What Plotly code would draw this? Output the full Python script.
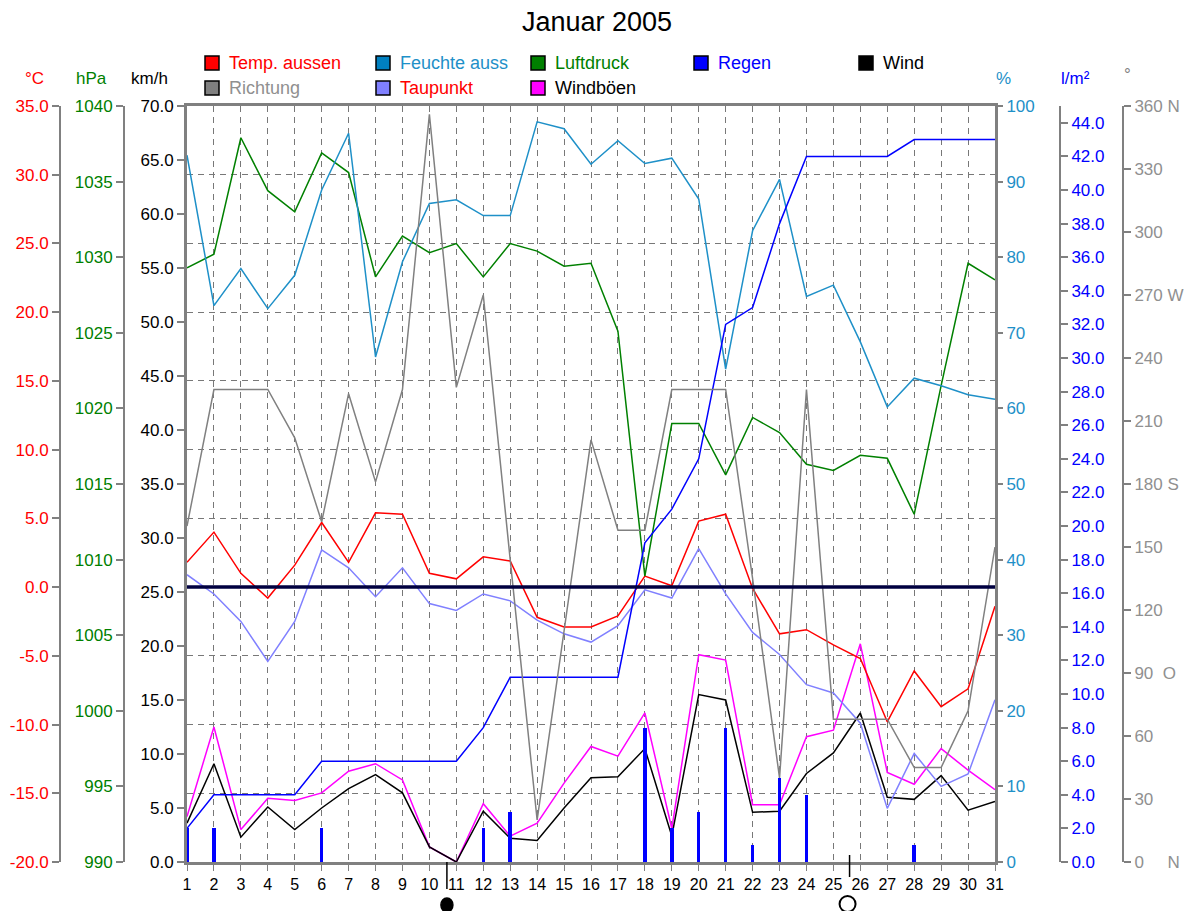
import plotly.graph_objects as go

# ---------------- data ----------------
days = list(range(1, 32))
day_labels = [str(d) for d in days]

temp_aussen = [1.8, 4.0, 1.0, -0.8, 1.6, 4.7, 1.8, 5.4, 5.3, 1.0, 0.6, 2.2, 1.9, -2.2, -2.9, -2.9,
               -2.1, 0.8, 0.1, 4.8, 5.3, -0.1, -3.4, -3.1, -4.2, -5.2, -9.8, -6.1, -8.7, -7.4, -1.4]
taupunkt = [0.9, -0.5, -2.5, -5.4, -2.5, 2.7, 1.4, -0.7, 1.4, -1.2, -1.7, -0.5, -1.0, -2.4, -3.4, -4.0,
            -2.8, -0.2, -0.8, 2.8, -0.5, -3.3, -4.9, -7.1, -7.7, -9.9, -16.1, -12.1, -14.5, -13.6, -8.2]
feuchte = [93.5, 73.6, 78.5, 73.2, 77.6, 88.9, 96.4, 66.8, 79.4, 87.1, 87.6, 85.5, 85.5, 97.9, 97.0, 92.3,
           95.4, 92.4, 93.1, 87.7, 65.2, 83.5, 90.3, 74.8, 76.3, 68.8, 60.2, 64.0, 63.0, 61.8, 61.2]
luftdruck = [1029.3, 1030.2, 1037.9, 1034.4, 1033.0, 1036.9, 1035.6, 1028.7, 1031.4, 1030.3, 1030.9,
             1028.7, 1030.9, 1030.4, 1029.4, 1029.6, 1025.1, 1008.9, 1019.0, 1019.0, 1015.6, 1019.4,
             1018.4, 1016.3, 1015.9, 1016.9, 1016.7, 1013.0, 1021.5, 1029.6, 1028.5]
regen_tag = [2, 2, 0, 0, 0, 2, 0, 0, 0, 0, 0, 2, 3, 0, 0, 0, 0, 8, 2, 3, 8, 1, 5, 4, 0, 0, 0, 1, 0, 0, 0]
regen_summe = [2, 4, 4, 4, 4, 6, 6, 6, 6, 6, 6, 8, 11, 11, 11, 11, 11, 19, 21, 24, 32, 33, 38, 42, 42,
               42, 42, 43, 43, 43, 43]
wind = [3.6, 9.1, 2.3, 5.1, 3.0, 5.0, 6.8, 8.1, 6.4, 1.4, 0.0, 4.7, 2.2, 2.0, 5.0, 7.8, 7.9, 10.5, 2.4,
        15.5, 15.0, 4.6, 4.7, 8.2, 10.1, 13.8, 6.0, 5.8, 8.0, 4.8, 5.6]
windboeen = [4.2, 12.5, 3.0, 5.9, 5.7, 6.4, 8.4, 9.1, 7.6, 1.4, 0.0, 5.4, 2.4, 3.6, 7.3, 10.7, 9.8,
             13.8, 3.1, 19.2, 18.7, 5.3, 5.3, 11.6, 12.2, 20.2, 8.3, 7.2, 10.5, 8.5, 6.7]
richtung = [160, 225, 225, 225, 202, 162, 223, 181, 225, 356, 226, 270, 144, 20, 110, 201, 158, 158,
            225, 225, 225, 135, 40, 225, 68, 68, 68, 45, 45, 72, 150]

temp_ticks = [35, 30, 25, 20, 15, 10, 5, 0, -5, -10, -15, -20]
hpa_ticks = [1040, 1035, 1030, 1025, 1020, 1015, 1010, 1005, 1000, 995, 990]
kmh_ticks = [70, 65, 60, 55, 50, 45, 40, 35, 30, 25, 20, 15, 10, 5, 0]
pct_ticks = [100, 90, 80, 70, 60, 50, 40, 30, 20, 10, 0]
rain_ticks = [44, 42, 40, 38, 36, 34, 32, 30, 28, 26, 24, 22, 20, 18, 16, 14, 12, 10, 8, 6, 4, 2, 0]
dir_ticks = [360, 330, 300, 270, 240, 210, 180, 150, 120, 90, 60, 30, 0]
NB = "\u00a0"
dir_labels = ["360" + NB + "N", "330", "300", "270" + NB + "W", "240", "210", "180" + NB + "S", "150",
              "120", "90" + NB * 2 + "O", "60", "30", "0" + NB * 5 + "N"]

moon_new_day = 10.65
moon_full_day = 25.6
zero_celsius = 0

# ---------------- geometry helpers ----------------
W, H = 1194, 911
ML, MR, MT, MB = 10, 10, 106, 49
PW = W - ML - MR
PH = H - MT - MB


def px(x):
    return (x - ML) / PW


def py(y):
    return (H - MB - y) / PH


FONT = "Liberation Sans, Arial, sans-serif"
GRAY = "#808080"
GRID = "#787878"
C_TEMP = "#FF0000"
C_HUM = "#1E90C8"
C_HUM_BOX = "#0080C0"
C_PRES = "#008000"
C_RAIN = "#0000FF"
C_DIR = "#808080"
C_DEW = "#8080FF"
C_GUST = "#FF00FF"
TICK_FS = 17

fig = go.Figure()

# km/h axis (main)
fig.add_trace(go.Scatter(x=days, y=windboeen, mode="lines", line=dict(color=C_GUST, width=1.5),
                         yaxis="y", showlegend=False))
fig.add_trace(go.Scatter(x=days, y=wind, mode="lines", line=dict(color="#000000", width=1.5),
                         yaxis="y", showlegend=False))
# temperature
fig.add_trace(go.Scatter(x=days, y=taupunkt, mode="lines", line=dict(color=C_DEW, width=1.5),
                         yaxis="y2", showlegend=False))
fig.add_trace(go.Scatter(x=days, y=temp_aussen, mode="lines", line=dict(color=C_TEMP, width=1.5),
                         yaxis="y2", showlegend=False))
# pressure
fig.add_trace(go.Scatter(x=days, y=luftdruck, mode="lines", line=dict(color=C_PRES, width=1.5),
                         yaxis="y3", showlegend=False))
# humidity
fig.add_trace(go.Scatter(x=days, y=feuchte, mode="lines", line=dict(color=C_HUM, width=1.5),
                         yaxis="y4", showlegend=False))
# rain
fig.add_trace(go.Bar(x=days, y=regen_tag, width=0.13, marker=dict(color=C_RAIN, line=dict(width=0)),
                     yaxis="y5", showlegend=False))
fig.add_trace(go.Scatter(x=days, y=regen_summe, mode="lines", line=dict(color=C_RAIN, width=1.5),
                         yaxis="y5", showlegend=False))
# direction
fig.add_trace(go.Scatter(x=days, y=richtung, mode="lines", line=dict(color=C_DIR, width=1.5),
                         yaxis="y6", showlegend=False))


def fmt1(v):
    return f"{v:.1f}"


common_y = dict(ticks="outside", ticklen=7, tickcolor=GRAY, tickwidth=1.5, zeroline=False,
                showgrid=False, automargin=False, fixedrange=True)

fig.update_layout(
    width=W, height=H,
    margin=dict(l=ML, r=MR, t=MT, b=MB, pad=0),
    paper_bgcolor="white", plot_bgcolor="white",
    font=dict(family=FONT, size=TICK_FS, color="#000000"),
    bargap=0,
    title=dict(text="Januar 2005", x=0.5, xanchor="center", y=1 - 22 / H, yanchor="middle",
               font=dict(family=FONT, size=27, color="#000000")),
    xaxis=dict(domain=[px(187), px(995)], range=[1, 31], tickvals=days, ticktext=day_labels,
               ticks="outside", ticklen=6, tickcolor=GRAY, showline=True, linecolor=GRAY, linewidth=3,
               mirror=True, showgrid=True, gridcolor=GRID, griddash="6px,5px", gridwidth=1.3,
               zeroline=False, tickfont=dict(size=16, color="#000000"), automargin=False, fixedrange=True),
    yaxis=dict(range=[0, 70], tickvals=kmh_ticks, ticktext=[fmt1(v) for v in kmh_ticks],
               showline=True, linecolor=GRAY, linewidth=3, mirror=True,
               tickfont=dict(size=TICK_FS, color="#000000"), **common_y),
    yaxis2=dict(overlaying="y", anchor="free", position=px(60), side="left", range=[-20, 35],
                tickvals=temp_ticks, ticktext=[fmt1(v) for v in temp_ticks],
                showline=True, linecolor=GRAY, linewidth=2,
                tickfont=dict(size=TICK_FS, color=C_TEMP),
                **{**common_y, "showgrid": True, "gridcolor": GRID, "griddash": "6px,5px", "gridwidth": 1.3}),
    yaxis3=dict(overlaying="y", anchor="free", position=px(124), side="left", range=[990, 1040],
                tickvals=hpa_ticks, ticktext=[str(v) for v in hpa_ticks],
                showline=True, linecolor=GRAY, linewidth=2,
                tickfont=dict(size=TICK_FS, color=C_PRES), **common_y),
    yaxis4=dict(overlaying="y", anchor="x", side="right", range=[0, 100],
                tickvals=pct_ticks, ticktext=[str(v) for v in pct_ticks], showline=False,
                tickfont=dict(size=TICK_FS, color=C_HUM), **common_y),
    yaxis5=dict(overlaying="y", anchor="free", position=px(1060), side="right", range=[0, 45],
                tickvals=rain_ticks, ticktext=[fmt1(v) for v in rain_ticks],
                showline=True, linecolor=GRAY, linewidth=2,
                tickfont=dict(size=TICK_FS, color=C_RAIN), **common_y),
    yaxis6=dict(overlaying="y", anchor="free", position=px(1123), side="right", range=[0, 360],
                tickvals=dir_ticks, ticktext=dir_labels,
                showline=True, linecolor=GRAY, linewidth=2,
                tickfont=dict(size=TICK_FS, color="#909090"), **common_y),
)

shapes = []
annotations = []

# 0 degC reference line
shapes.append(dict(type="line", xref="x", yref="y2", x0=days[0], x1=days[-1], y0=zero_celsius,
                   y1=zero_celsius, line=dict(color="#000040", width=3.5), layer="above"))

# moon phase markers
shapes.append(dict(type="line", xref="x", yref="paper", x0=moon_new_day, x1=moon_new_day,
                   y0=py(862), y1=py(889), line=dict(color="#000000", width=1.5)))
shapes.append(dict(type="line", xref="x", yref="paper", x0=moon_full_day, x1=moon_full_day,
                   y0=py(855), y1=py(877), line=dict(color="#000000", width=1.5)))
shapes.append(dict(type="circle", xref="x", yref="paper", xsizemode="pixel", ysizemode="pixel",
                   xanchor=moon_new_day, yanchor=py(905), x0=-6, x1=6, y0=-7, y1=7,
                   fillcolor="#000000", line=dict(color="#000000", width=1.5)))
shapes.append(dict(type="circle", xref="x", yref="paper", xsizemode="pixel", ysizemode="pixel",
                   xanchor=moon_full_day, yanchor=py(904), x0=-10, x1=6, y0=-8, y1=8,
                   fillcolor="rgba(0,0,0,0)", line=dict(color="#000000", width=2)))

# axis unit titles
units = [("°C", 34, 79, C_TEMP), ("hPa", 91, 79, C_PRES), ("km/h", 149, 79, "#000000"),
         ("%", 1003, 78, C_HUM), ("l/m²", 1075, 78, C_RAIN), ("°", 1127, 74, GRAY)]
for txt, xx, yy, col in units:
    annotations.append(dict(xref="paper", yref="paper", x=px(xx), y=py(yy), text=txt, showarrow=False,
                            font=dict(size=17, color=col), xanchor="center", yanchor="middle"))

# custom legend
legend_items = [
    ("Temp. aussen", C_TEMP, C_TEMP, 205, 63),
    ("Feuchte auss", C_HUM_BOX, C_HUM, 376, 63),
    ("Luftdruck", C_PRES, C_PRES, 531, 63),
    ("Regen", C_RAIN, C_RAIN, 694, 63),
    ("Wind", "#000000", "#000000", 859, 63),
    ("Richtung", GRAY, "#909090", 205, 88),
    ("Taupunkt", C_DEW, C_TEMP, 376, 88),
    ("Windböen", C_GUST, "#000000", 531, 88),
]
for txt, box_col, txt_col, bx, cy in legend_items:
    shapes.append(dict(type="rect", xref="paper", yref="paper", x0=px(bx), x1=px(bx + 14),
                       y0=py(cy + 7), y1=py(cy - 7), fillcolor=box_col,
                       line=dict(color="#000000", width=1.5)))
    annotations.append(dict(xref="paper", yref="paper", x=px(bx + 22), y=py(cy), text=txt,
                            showarrow=False, font=dict(size=18, color=txt_col),
                            xanchor="left", yanchor="middle"))

fig.update_layout(shapes=shapes, annotations=annotations)

fig.write_html("out.html", config={"displayModeBar": False},
               post_script="document.body.style.margin='0px';document.body.style.overflow='hidden';")
